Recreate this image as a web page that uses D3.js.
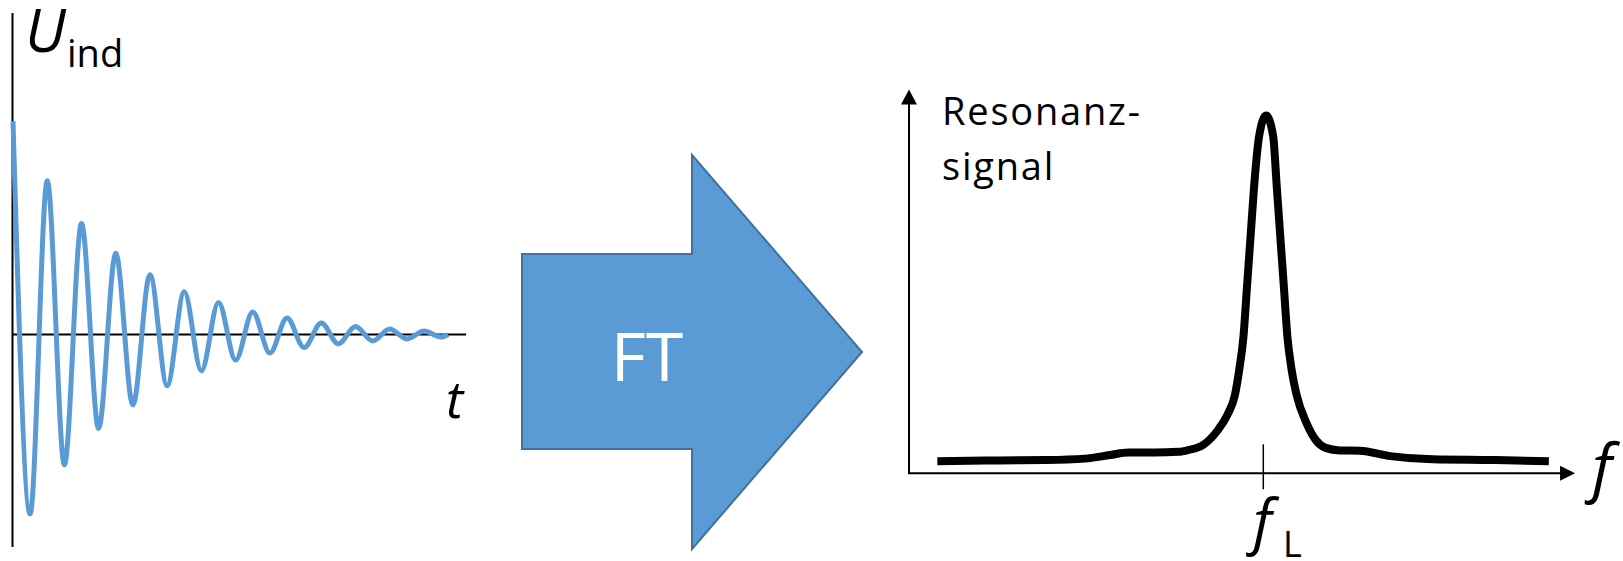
<!DOCTYPE html>
<html>
<head>
<meta charset="utf-8">
<script src="https://cdn.jsdelivr.net/npm/d3@7/dist/d3.min.js"></script>
<style>
    body { margin: 0; background: #ffffff; }
    svg { display: block; }
</style>
</head>
<body>
<svg id="chartsvg" width="1623" height="561"></svg>
<script>
// induced voltage after the pulse (time in oscillation periods, voltage relative to first maximum)
var fidTime = [0, 0.5, 1, 1.5, 2, 2.5, 3, 3.5, 4, 4.5, 5, 5.5, 6, 6.5, 7, 7.5, 8, 8.5, 9, 9.5, 10, 10.5, 11, 11.5, 12, 12.5, 12.7]
var fidVoltage = [1.00, -0.84, 0.72, -0.61, 0.52, -0.44, 0.38, -0.33, 0.28, -0.24, 0.20, -0.17, 0.15, -0.12, 0.105, -0.087, 0.077, -0.061, 0.054, -0.044, 0.037, -0.030, 0.026, -0.021, 0.016, -0.012, 0]

// resonance signal after the fourier transform (frequency in arbitrary units, f_L = 50; signal in % of max)
var specFreq = [4, 12.8, 19.3, 24.8, 28.4, 30.9, 34.7, 38.0, 39.4, 41.5, 43.6, 45.0, 46.0, 46.6, 47.2, 47.7, 48.2, 48.7, 49.4, 50.4,
                51.4, 51.9, 52.4, 52.9, 53.4, 54.0, 54.7, 56.1, 57.4, 58.8, 60.8, 63.6, 67.9, 73.9, 82.8, 90.3]
var specSignal = [3.4, 3.6, 3.7, 4.1, 5.1, 5.8, 5.8, 6.0, 6.5, 7.9, 12.1, 16.6, 21.9, 28.9, 38.2, 52.2, 66.1, 80.1, 94.1, 100,
                  94.1, 80.1, 66.1, 52.2, 38.2, 28.9, 21.9, 14.0, 9.3, 7.1, 6.4, 6.3, 4.8, 3.9, 3.7, 3.4]
var larmorFreq = 50

var textFont = "'Open Sans', 'Noto Sans', sans-serif"

drawInduction()
drawTransformArrow()
drawSpectrum()

function drawInduction()
{
    var svg = d3.select("#chartsvg")

    var xT = d3.scaleLinear().domain([0, 13]).range([13, 458.25])
    var yU = d3.scaleLinear().domain([-1, 1]).range([548, 121])

    // axes
    svg.append('line')
        .attr('x1', 12.5).attr('x2', 12.5)
        .attr('y1', 13).attr('y2', 547)
        .attr('stroke', '#000').attr('stroke-width', 2)
    svg.append('line')
        .attr('x1', 12).attr('x2', xT(13.23))
        .attr('y1', yU(0)).attr('y2', yU(0))
        .attr('stroke', '#000').attr('stroke-width', 2)

    var points = fidTime.map(function(t, i) { return [t, fidVoltage[i]] })
    var lineFunction = d3.line()
                        .x(function(d) { return xT(d[0]) })
                        .y(function(d) { return yU(d[1]) })
                        .curve(d3.curveMonotoneX)

    svg.append('path')
        .attr('d', lineFunction(points))
        .attr('fill', 'none')
        .attr('stroke', '#5b9bd5')
        .attr('stroke-width', 5)
        .attr('stroke-linejoin', 'round')

    // labels
    var ulabel = svg.append('text')
        .attr('x', 25)
        .attr('y', 52)
        .style('font-family', textFont)
        .style('font-size', '60px')
    ulabel.append('tspan').style('font-style', 'italic').text('U')
    ulabel.append('tspan')
        .attr('x', 67).attr('y', 67)
        .style('font-size', '38px')
        .text('ind')

    svg.append('text')
        .attr('x', 446)
        .attr('y', 418)
        .style('font-family', textFont)
        .style('font-style', 'italic')
        .style('font-size', '52px')
        .text('t')
}

function drawTransformArrow()
{
    var svg = d3.select("#chartsvg")
    var shape = [[522, 254], [692, 254], [692, 155], [862, 352], [692, 549], [692, 449], [522, 449]]

    svg.append('path')
        .attr('d', d3.line()(shape) + 'Z')
        .attr('fill', '#5b9bd5')
        .attr('stroke', '#41719c')
        .attr('stroke-width', 2)

    svg.append('text')
        .attr('x', 647)
        .attr('y', 381)
        .attr('text-anchor', 'middle')
        .attr('fill', '#ffffff')
        .style('font-family', textFont)
        .style('font-size', '68px')
        .text('FT')
}

function drawSpectrum()
{
    var svg = d3.select("#chartsvg")

    var xF = d3.scaleLinear().domain([0, larmorFreq]).range([909, 1263.3])
    var yS = d3.scaleLinear().domain([0, 100]).range([473.3, 115.5])

    var x0 = xF(0), y0 = yS(0)
    var xEnd = xF(94), yEnd = yS(107.3)

    svg.append('line')
        .attr('x1', x0).attr('x2', x0)
        .attr('y1', y0).attr('y2', yEnd + 10)
        .attr('stroke', '#000').attr('stroke-width', 2)
    svg.append('line')
        .attr('x1', x0 - 1).attr('x2', xEnd - 10)
        .attr('y1', y0).attr('y2', y0)
        .attr('stroke', '#000').attr('stroke-width', 2)

    // arrow heads
    svg.append('path')
        .attr('d', d3.line()([[x0, yEnd], [x0 - 8, yEnd + 15], [x0 + 8, yEnd + 15]]) + 'Z')
        .attr('fill', '#000')
    svg.append('path')
        .attr('d', d3.line()([[xEnd, y0], [xEnd - 15, y0 - 7.5], [xEnd - 15, y0 + 7.5]]) + 'Z')
        .attr('fill', '#000')

    // tick at the larmor frequency
    svg.append('line')
        .attr('x1', xF(larmorFreq)).attr('x2', xF(larmorFreq))
        .attr('y1', y0 - 29).attr('y2', y0 + 16)
        .attr('stroke', '#000').attr('stroke-width', 1.5)

    var points = specFreq.map(function(f, i) { return [f, specSignal[i]] })
    var lineFunction = d3.line()
                        .x(function(d) { return xF(d[0]) })
                        .y(function(d) { return yS(d[1]) })
                        .curve(d3.curveMonotoneX)

    svg.append('path')
        .attr('d', lineFunction(points))
        .attr('fill', 'none')
        .attr('stroke', '#000')
        .attr('stroke-width', 8)
        .attr('stroke-linejoin', 'round')

    // labels
    svg.append('text')
        .attr('x', 942)
        .attr('y', 125)
        .style('font-family', textFont)
        .style('font-size', '38px')
        .style('letter-spacing', '1.8px')
        .text('Resonanz-')
    svg.append('text')
        .attr('x', 942)
        .attr('y', 180)
        .style('font-family', textFont)
        .style('font-size', '38px')
        .style('letter-spacing', '1.8px')
        .text('signal')

    var flabel = svg.append('text')
        .attr('x', 1253)
        .attr('y', 543)
        .style('font-family', textFont)
        .style('font-size', '60px')
    flabel.append('tspan').style('font-style', 'italic').text('f')
    flabel.append('tspan')
        .attr('x', 1283).attr('y', 557)
        .style('font-size', '36px')
        .text('L')

    svg.append('text')
        .attr('x', 1592)
        .attr('y', 490)
        .style('font-family', textFont)
        .style('font-style', 'italic')
        .style('font-size', '64px')
        .text('f')
}
</script>
</body>
</html>
